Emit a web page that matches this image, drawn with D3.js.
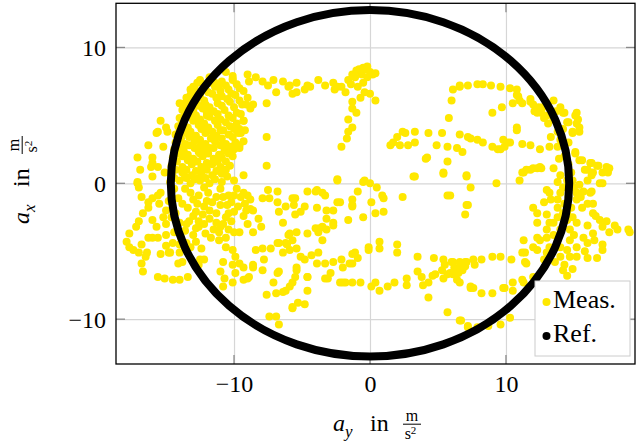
<!DOCTYPE html>
<html><head><meta charset="utf-8">
<script src="https://cdn.jsdelivr.net/npm/d3@7"></script>
<style>body{margin:0;background:#fff} svg{display:block} text{font-family:"Liberation Serif","Times New Roman",serif;fill:#000}</style>
</head><body><svg id="c" width="636" height="442"></svg>
<script>
// ---- data (a_y, a_x) in m/s^2 ----
const xDomain = [-18.68, 19.49];
const yDomain = [-13.3, 13.25];
const xTicks = [-10, 0, 10];
const yTicks = [-10, 0, 10];
const refRadii = [14.65, 12.75];           // reference ellipse semi-axes (a_y, a_x)
const legendLabels = ["Meas.", "Ref."];

const measTop = [
[-10.6,8.2],[-10.1,7.9],[-9.0,8.0],[-11.8,7.4],[-11.1,7.2],[-10.1,7.6],[-8.9,7.5],[-7.9,7.5],[-7.1,7.6],[-6.4,7.5],[-6.0,7.1],[-5.7,6.6],[-6.9,6.7],[-8.4,7.8],[-7.5,7.2],
[-5.9,7.2],[-5.4,6.7],[-4.8,6.9],[-4.6,7.2],[-3.8,7.6],[-3.3,7.2],[-2.7,7.4],[-2.6,6.9],[-2.1,7.1],[-1.8,6.7],[-1.6,7.6],[-1.3,8.0],[-1.0,8.3],[-0.5,8.5],[0.0,8.2],[0.4,8.1],
[-0.2,7.8],[-0.6,8.0],[-1.1,7.8],[-0.9,7.1],[-0.4,6.7],[0.0,6.6],[0.4,6.1],[-0.7,6.3],[-1.3,6.0],[-1.3,5.5],[-1.0,5.2],[-1.6,4.7],[-1.3,4.1],[-1.6,3.8],[-1.7,3.3],[-2.1,2.7],
[-5.4,7.4],[-4.4,7.1],[-2.4,7.1],[-0.3,8.4],[0.2,8.0],[-0.8,8.4],[-0.2,8.6],[-1.4,7.3],[-0.5,7.4]
];
const measLeftDense = [
[-12.5,7.6],[-11.8,7.8],[-10.9,7.5],[-10.1,7.7],
[-12.9,7.0],[-12.1,6.9],[-11.4,7.1],[-10.4,6.9],[-9.6,7.0],
[-13.2,6.5],[-12.5,6.4],[-11.6,6.6],[-10.9,6.4],[-9.9,6.5],[-9.0,6.3],
[-13.6,5.9],[-12.8,6.0],[-12.1,5.8],[-11.2,5.9],[-10.3,6.0],[-9.4,5.8],
[-13.8,5.4],[-13.0,5.3],[-12.3,5.5],[-11.5,5.3],[-10.7,5.4],[-9.8,5.2],[-8.8,5.5],
[-14.0,4.8],[-13.2,4.9],[-12.5,4.7],[-11.8,4.9],[-11.0,4.7],[-10.1,4.8],[-9.3,4.6],
[-14.1,4.2],[-13.4,4.1],[-12.6,4.3],[-11.9,4.1],[-11.2,4.3],[-10.3,4.2],[-9.6,4.0],
[-14.3,3.6],[-13.5,3.7],[-12.8,3.5],[-12.1,3.7],[-11.3,3.5],[-10.4,3.6],[-9.7,3.7],
[-14.3,3.0],[-13.6,2.9],[-12.9,3.1],[-12.1,2.9],[-11.4,3.1],[-10.6,2.9],[-9.9,3.0],[-9.3,3.1],
[-14.4,2.5],[-13.7,2.4],[-12.9,2.6],[-12.2,2.4],[-11.5,2.6],[-10.7,2.4],[-10.0,2.5],
[-14.5,1.9],[-13.8,2.0],[-13.0,1.8],[-12.3,2.0],[-11.5,1.8],[-10.9,1.9],[-10.1,2.0],
[-14.6,1.3],[-13.8,1.2],[-13.1,1.4],[-12.4,1.2],[-11.6,1.4],[-11.0,1.2],[-10.3,1.3],
[-14.6,0.7],[-13.8,0.8],[-13.1,0.6],[-12.4,0.8],[-11.6,0.6],[-10.9,0.7],
[-14.7,0.1],[-14.0,0.2],[-13.2,0.0],[-12.5,0.2],[-11.8,0.0],[-10.9,0.1],[-10.0,0.2],
[-13.4,6.2],[-12.0,5.0],[-13.9,3.3],[-12.5,2.2],[-11.2,1.6],[-13.5,0.4],[-11.0,3.9],[-14.2,2.2],[-12.6,0.4],
[-12.2,7.3],[-11.4,7.4],[-10.6,7.2],[-9.8,7.3],
[-12.8,6.7],[-11.9,6.7],[-11.0,6.8],[-10.2,6.6],[-9.3,6.8],
[-13.0,6.2],[-12.2,6.1],[-11.3,6.3],[-10.5,6.2],[-9.6,6.1],
[-13.4,5.6],[-12.6,5.7],[-11.8,5.6],[-10.9,5.7],[-10.0,5.6],[-9.1,5.8],
[-13.6,5.1],[-12.8,5.0],[-12.0,5.2],[-11.2,5.1],[-10.4,5.0],[-9.5,5.1],
[-13.8,4.5],[-13.0,4.6],[-12.2,4.4],[-11.4,4.6],[-10.6,4.5],[-9.8,4.4],
[-14.0,3.9],[-13.2,3.8],[-12.4,4.0],[-11.6,3.8],[-10.8,3.9],[-10.0,4.0],[-9.2,3.9],
[-14.1,3.3],[-13.3,3.4],[-12.5,3.2],[-11.7,3.3],[-10.9,3.3],[-10.1,3.4],
[-14.1,2.7],[-13.3,2.8],[-12.5,2.7],[-11.8,2.6],[-11.0,2.8],[-10.3,2.7],[-9.6,2.6],
[-14.2,2.2],[-13.4,2.1],[-12.6,2.3],[-11.9,2.2],[-11.1,2.1],[-10.4,2.2],
[-14.2,1.6],[-13.4,1.7],[-12.7,1.6],[-12.0,1.5],[-11.3,1.7],[-10.6,1.6],
[-14.3,1.0],[-13.5,1.0],[-12.8,0.9],[-12.0,1.0],[-11.3,0.9],[-10.6,1.0],
[-14.4,0.4],[-13.6,0.5],[-12.9,0.3],[-12.1,0.4],[-11.4,0.3],[-10.5,0.5]
];
const measLeftOuter = [
[-15.4,4.6],[-16.3,2.8],[-15.7,3.7],[-17.1,1.9],[-16.9,1.0],[-17.1,0.1],[-16.0,1.9],[-15.2,2.7],[-14.9,3.8],[-14.0,5.9],[-13.5,6.3],[-13.2,6.9],[-13.0,7.1],[-12.7,7.4],
[-15.1,0.8],[-15.6,1.2],[-16.0,1.5],[-16.0,0.5],[-15.0,4.1],[-15.6,3.8],[-16.1,1.2],
[-8.6,5.8],[-7.6,5.9],[-9.3,4.6],[-7.6,3.4],[-7.6,1.3],[-9.3,0.6],[-9.5,3.7],[-9.6,2.8]
];
const measLowLeft = [
[-17.1,0.0],[-17.0,-0.3],[-16.8,-1.0],[-16.3,-1.4],[-16.0,-1.1],[-15.6,-0.9],[-15.4,-0.7],[-15.5,-1.5],[-16.3,-1.8],[-16.7,-2.2],[-17.0,-2.8],[-17.2,-3.2],[-17.7,-3.7],[-17.9,-4.3],
[-17.7,-4.7],[-17.4,-4.9],[-17.0,-5.1],[-16.5,-5.4],[-16.8,-5.9],[-16.7,-6.5],[-15.6,-6.9],[-15.1,-7.0],[-14.5,-7.1],[-14.0,-7.1],[-13.4,-6.9],[-15.4,-5.2],[-14.8,-5.1],[-14.0,-5.1],
[-14.1,-5.9],[-13.8,-5.8],[-16.3,-4.0],[-16.0,-4.0],[-15.6,-4.0],[-15.7,-3.2],[-16.0,-2.7],[-15.2,-2.5],[-14.6,-2.5],[-14.0,-2.9],[-14.4,-3.6],[-13.9,-4.0],[-13.5,-4.4],[-13.2,-4.7],
[-12.8,-4.3],[-12.4,-4.8],[-12.2,-5.6],[-12.6,-6.0],[-12.6,-3.2],[-12.1,-3.7],[-11.5,-3.4],[-11.1,-3.6],[-10.4,-3.4],[-10.0,-3.6],[-9.6,-3.6],[-8.6,-3.6],[-13.2,-0.7],[-12.6,-0.9],
[-11.9,-0.7],[-11.3,-1.0],[-10.8,-1.0],[-10.4,-0.9],[-10.0,-0.9],[-9.3,-0.7],[-9.0,-0.9],[-8.8,-1.2],[-9.7,-1.7],[-8.8,-1.9],[-10.6,-2.5],[-11.3,-2.2],[-11.8,-2.0],[-12.3,-2.3],
[-12.8,-2.1],[-13.4,-1.8],[-13.8,-1.5],[-13.3,-2.8],[-12.6,-2.8],[-11.3,-2.9],[-11.1,-4.2],[-10.6,-4.7],[-10.1,-4.9],[-9.9,-5.4],[-9.6,-5.9],[-10.1,-6.0],[-10.8,-5.8],[-11.0,-6.5],
[-10.7,-7.0],[-10.8,-7.6],[-10.1,-7.3],[-9.3,-7.1],[-8.9,-6.9],[-9.9,-6.6],[-9.3,-6.2],[-8.6,-6.2],[-7.9,-6.4],[-7.8,-5.6],[-8.4,-4.9],[-7.9,-4.8],[-7.3,-4.8],[-6.7,-4.4],
[-6.2,-4.4],[-5.7,-4.2],[-6.4,-5.1],[-6.7,-6.5],[-7.1,-7.3],[-7.6,-8.2],[-6.9,-8.1],[-6.2,-7.9],[-5.7,-9.1],[-7.4,-9.8],[-6.9,-9.8],[-6.7,-10.4],[-7.9,-1.1],[-7.4,-1.1],
[-7.5,-0.5],[-6.8,-1.4],[-6.2,-1.7],[-6.7,-2.1],[-6.4,-2.9],[-6.0,-3.8],[-5.6,-1.6],[-8.6,-2.0],[-12.2,-1.7],[-14.3,-2.2],
[-16.4,-5.1],[-14.7,-5.1],[-14.5,-4.4],[-12.5,-5.6],[-9.0,-7.0],[-8.6,-6.0],[-6.8,-6.6],[-6.4,-8.0],[-5.9,-7.6],[-5.4,-6.2],[-4.6,-6.9],[-6.8,-4.4],[-6.1,-4.5],[-4.0,-3.3],
[-13.0,-1.2],[-12.0,-1.3],[-11.0,-1.6],[-10.2,-1.4],[-9.5,-1.0],[-12.8,-3.3],[-11.8,-2.6],[-10.8,-3.0],[-13.6,-3.5],[-10.4,-2.2],[-9.3,-2.4],[-9.0,-3.0],[-8.2,-2.6],[-8.0,-3.2],
[-6.8,-0.6],[-5.7,-1.1],[-3.9,-0.5],
[-14.4,-0.4],[-13.6,-0.4],[-12.2,-0.3],[-11.0,-0.4],[-9.8,-0.4],
[-14.8,-1.3],[-14.1,-1.1],[-12.7,-1.5],[-11.6,-1.4],[-10.5,-1.6],[-9.2,-1.5],
[-15.0,-2.0],[-13.0,-2.4],[-10.0,-2.1],[-9.1,-2.0],
[-15.0,-3.0],[-13.5,-3.0],[-12.2,-3.0],[-11.0,-3.2],[-10.2,-2.8],
[-15.0,-3.8],[-13.0,-3.8],[-11.7,-4.0],[-10.6,-4.0],
[-16.8,-4.5],[-15.0,-4.6],[-14.0,-4.5]
];
const measCenter = [
[-2.4,0.2],[-0.5,0.1],[0.0,0.0],[0.5,-0.3],[0.9,-0.9],[1.0,-1.1],[2.4,-1.0],[5.9,-0.9],[7.1,-1.6],[7.0,-2.3],[-0.9,-0.6],[0.1,-1.4],[1.0,-2.1],[0.4,-2.2],[-1.3,-1.2],[-1.3,-1.6],
[-0.5,-2.5],[-1.6,-2.7],[-2.4,-1.4],[-3.3,-0.9],[-4.0,-0.6],[-4.6,-0.6],[-5.5,-1.1],[-4.8,-1.7],[-5.1,-2.1],[-5.5,-2.3],[-3.9,-1.8],[-3.2,-2.0],[-2.7,-2.0],[-3.2,-2.6],[-3.7,-3.3],
[-3.2,-3.4],[-2.7,-2.9],[-3.8,-3.6],[-4.6,-3.7],[-5.4,-3.6],[-5.9,-3.7],[-3.5,-4.2],[-5.9,-4.9],[-5.4,-4.8],[-5.1,-5.4],[-4.8,-5.6],[-4.3,-5.3],[-3.8,-5.1],[-3.9,-5.9],[-3.3,-5.9],
[-2.7,-5.8],[-2.1,-5.6],[-1.3,-5.2],[-0.9,-5.5],[-1.3,-5.9],[-2.0,-6.2],[-2.9,-6.6],[-3.3,-7.0],[-4.6,-6.9],[-5.4,-6.4],[-5.5,-6.9],[-5.7,-7.3],[-4.6,-7.9],[-5.3,-8.8],[-4.8,-8.9],
[-5.7,-9.2],[-2.2,-7.3],[-1.8,-7.3],[-1.3,-7.3],[-0.7,-7.3],[-0.1,-4.7],[-0.1,-4.9],[0.7,-4.3],[0.7,-4.8],[2.0,-4.5],[2.0,-5.1],[0.1,-7.6],[0.4,-7.3],[0.7,-7.9],[1.3,-7.6],
[1.8,-7.3],[2.7,-7.0],[2.7,-7.5],[3.5,-6.5],[3.8,-6.9],[3.9,-7.5],[4.3,-7.3],[4.6,-6.8],[4.3,-8.4],[3.5,-5.4],[4.7,-5.5],[5.4,-5.6],[5.3,-6.4],[5.7,-6.7],[5.4,-7.0],[6.1,-5.8],
[6.6,-5.8],[7.1,-5.8],[6.4,-6.3],[6.8,-6.4],[5.9,-6.6],[6.4,-7.1],[6.6,-7.3],[7.4,-7.6],[5.7,-9.5],[6.7,-10.1],[7.2,-10.5],
[-3.5,-3.2],[-2.7,-3.1],[-1.1,-5.1],[-1.5,-5.9],[-3.1,-7.0],[-2.0,-7.3],[4.8,-6.7],[5.5,-6.0],[6.0,-5.8],[6.1,-6.7],[7.6,-7.7],[8.2,-8.1],[9.0,-8.1],
[6.2,-6.2],[6.8,-5.9],[6.5,-6.6],[7.0,-6.1],[-3.5,-0.7],[-2.2,-1.4],[-1.3,-1.7]
];
const measMidRight = [
[1.5,2.8],[2.0,3.4],[2.4,3.8],[3.3,3.8],[2.2,2.8],[2.8,2.8],[3.3,3.0],[1.7,3.0],[2.6,3.7],[4.3,3.7],[5.3,3.7],[4.9,2.8],[5.7,2.7],[6.6,3.6],[7.2,3.4],[6.4,2.6],
[6.8,2.3],[4.1,1.8],[5.7,1.6],[6.0,6.1],[6.1,6.9],[6.6,7.1],[5.8,4.8],[4.2,1.9],[5.4,0.8],[3.3,0.5],[5.4,0.7],[7.1,0.6],[-2.4,0.3],[-0.4,0.2],[3.2,0.5],[5.7,-0.9]
];
const measRight = [
[6.6,7.2],[7.2,7.2],[7.9,7.3],[8.3,7.3],[8.9,7.2],[9.6,7.1],[10.3,7.0],[10.8,6.9],[10.9,6.4],[10.5,5.9],[11.0,6.1],[10.8,6.5],[11.2,5.9],[11.8,6.0],[11.8,6.2],[12.0,5.8],
[12.4,5.6],[12.6,5.2],[13.0,5.0],[12.7,5.6],[12.3,5.2],[13.5,6.1],[14.0,5.6],[14.3,5.2],[13.5,4.7],[13.1,4.4],[14.6,4.5],[14.5,4.5],[15.1,5.0],[15.2,5.2],[15.3,4.7],[15.2,4.4],
[15.4,4.1],[15.4,3.8],[14.9,3.8],[14.9,3.7],[14.2,5.2],[10.8,4.1],[10.8,3.9],[9.7,5.6],[9.0,5.2],
[9.8,3.2],[10.1,3.0],[9.6,2.5],[11.2,2.9],[11.8,2.8],[13.2,2.7],[13.8,2.7],[12.5,2.5],[14.0,3.2],[14.6,3.0],[15.1,2.3],[15.1,2.2],[15.4,1.7],[15.6,1.7],[16.2,1.5],[16.3,1.5],
[16.7,1.3],[16.8,1.3],[17.4,1.2],[17.6,1.1],[17.5,0.8],[17.1,0.8],[16.4,0.8],[16.0,1.0],[15.8,1.0],[16.3,0.6],[17.1,0.0],[16.9,0.0],[16.0,0.2],[15.4,-0.1],[16.3,-0.6],[16.0,-1.5],[16.4,-2.2],
[7.4,3.3],[7.9,3.2],[8.3,3.0],[9.0,2.7],[9.4,2.5],[9.9,2.7],[10.3,3.0],
[11.3,0.8],[11.5,1.0],[11.8,1.0],[12.0,1.1],[12.3,1.1],[12.5,1.2],[12.6,1.1],[13.5,1.1],[14.0,0.6],[14.5,0.2],[14.9,0.2],[13.8,0.1],[14.2,-0.3],[14.0,-0.7],[14.6,-1.0],[15.2,-0.7],
[11.0,0.2],[13.0,-0.5],[13.2,-0.7],[13.8,-1.2],[13.8,-1.8],[14.5,-2.2],[12.3,-2.2],[13.0,-2.3],[11.2,0.8],[9.3,0.0],[7.1,0.5],
[14.3,2.0],[14.6,1.4],[13.9,1.8],[14.8,0.8],[15.0,-0.3],[14.3,-1.5],[14.8,-1.8],[15.5,-1.0],
[13.8,3.8],[13.3,3.4],[14.2,4.0],[12.8,4.8],[13.7,5.3],[12.1,5.3]
];
const measLowRight = [
[7.4,-0.3],[7.2,-1.6],[12.3,-2.9],[13.2,-2.9],[13.8,-2.5],[14.2,-2.2],[15.2,-1.2],[16.4,-1.5],[16.2,-0.7],[15.2,-0.7],[15.7,-0.6],[16.9,-2.7],[17.4,-2.8],[18.0,-3.1],[18.2,-3.4],
[19.0,-3.4],[19.1,-3.6],[17.1,-3.2],[15.2,-2.9],[16.0,-3.1],[16.4,-3.7],[15.7,-4.0],[16.0,-4.4],[15.2,-4.7],[14.7,-4.2],[14.5,-4.9],[13.8,-4.2],[13.0,-4.0],[12.5,-4.2],[12.0,-4.7],
[11.4,-5.1],[12.3,-4.9],[13.0,-5.1],[14.0,-5.4],[14.7,-5.4],[15.2,-5.4],[16.0,-5.5],[16.7,-5.5],[17.1,-4.9],[17.1,-4.5],[14.2,-6.4],[14.5,-6.8],[14.9,-6.3],[14.3,-6.0],[11.4,-5.8],
[10.4,-5.6],[9.6,-5.4],[9.0,-5.4],[8.2,-5.6],[7.6,-5.6],[7.0,-5.8],[6.6,-6.2],[7.7,-6.0],[12.0,-6.9],[11.2,-7.1],[10.5,-7.3],[9.8,-7.7],[10.5,-7.9],[7.4,-7.7],[10.3,-9.9],
[9.6,-10.4],[7.9,-10.6],[7.2,-10.6],[13.5,-2.9],[13.0,-3.4],[14.7,-3.4],[14.0,-3.4],[14.5,-2.7],[14.9,-2.5],[14.0,-4.7],[13.2,-4.7],
[11.2,-5.1],[11.5,-5.9],[11.3,-4.2],[12.3,-4.0],[9.9,-7.7],[11.3,-7.3],[8.7,-10.5],[6.6,-10.1],
[15.6,-1.8],[15.0,-3.8],[13.5,-3.8],[16.5,-4.2],[15.8,-5.0],[13.6,-5.8],[12.8,-5.6],[16.6,-2.4],[17.6,-3.6],[12.8,-1.4],[12.0,-1.8],[13.3,-1.2]
];
const meas = [].concat(measTop, measLeftDense, measLeftOuter, measLowLeft, measCenter, measMidRight, measRight, measLowRight);

// ---- drawing ----
const svg = d3.select("#c");
const L = 116, R = 635, T = 3.3, B = 364;
const x = d3.scaleLinear().domain(xDomain).range([L, R]);
const y = d3.scaleLinear().domain(yDomain).range([B, T]);
const fmt = d => d < 0 ? "\u2212" + Math.abs(d) : String(d);

// grid
svg.append("g").attr("transform", `translate(0,${B})`)
  .call(d3.axisBottom(x).tickValues(xTicks).tickSize(-(B - T)).tickFormat(""))
  .call(g => { g.select(".domain").remove(); g.selectAll("line").attr("stroke", "#d6d6d6").attr("stroke-width", 1.2); });
svg.append("g").attr("transform", `translate(${L},0)`)
  .call(d3.axisLeft(y).tickValues(yTicks).tickSize(-(R - L)).tickFormat(""))
  .call(g => { g.select(".domain").remove(); g.selectAll("line").attr("stroke", "#d6d6d6").attr("stroke-width", 1.2); });

// inward tick marks on all sides
const tk = 9, tc = "#8a8a8a";
const tg = svg.append("g").attr("stroke", tc).attr("stroke-width", 1.3);
xTicks.forEach(v => {
  tg.append("line").attr("x1", x(v)).attr("x2", x(v)).attr("y1", B).attr("y2", B - tk);
  tg.append("line").attr("x1", x(v)).attr("x2", x(v)).attr("y1", T).attr("y2", T + tk);
});
yTicks.forEach(v => {
  tg.append("line").attr("y1", y(v)).attr("y2", y(v)).attr("x1", L).attr("x2", L + tk);
  tg.append("line").attr("y1", y(v)).attr("y2", y(v)).attr("x1", R).attr("x2", R - tk);
});

// clip
svg.append("clipPath").attr("id", "clip").append("rect")
  .attr("x", L).attr("y", T).attr("width", R - L).attr("height", B - T);

// measured points
svg.append("g").attr("clip-path", "url(#clip)")
  .selectAll("circle").data(meas).join("circle")
  .attr("cx", d => x(d[0])).attr("cy", d => y(d[1])).attr("r", 4)
  .attr("fill", "#ffe800");

// reference ellipse
svg.append("ellipse")
  .attr("cx", x(0)).attr("cy", y(0))
  .attr("rx", x(refRadii[0]) - x(0)).attr("ry", y(0) - y(refRadii[1]))
  .attr("fill", "none").attr("stroke", "#000").attr("stroke-width", 8);

// frame
svg.append("rect").attr("x", L).attr("y", T).attr("width", R - L).attr("height", B - T)
  .attr("fill", "none").attr("stroke", "#000").attr("stroke-width", 1.3);

// tick labels
svg.append("g").attr("transform", `translate(0,${B})`)
  .call(d3.axisBottom(x).tickValues(xTicks).tickSize(0).tickFormat(fmt))
  .call(g => { g.select(".domain").remove();
    g.selectAll("text").attr("y", 28).attr("dy", 0).attr("fill", "#000")
      .style("font-family", '"Liberation Serif",serif').style("font-size", "24px"); });
svg.append("g").attr("transform", `translate(${L},0)`)
  .call(d3.axisLeft(y).tickValues(yTicks).tickSize(0).tickFormat(fmt))
  .call(g => { g.select(".domain").remove();
    g.selectAll("text").attr("x", -10).attr("dy", "0.34em").attr("fill", "#000")
      .style("font-family", '"Liberation Serif",serif').style("font-size", "24px"); });

// axis labels
function axisLabel(g, sub) {
  g.append("text").attr("x", -43).attr("y", 0).style("font-style", "italic").style("font-size", "24px").text("a");
  g.append("text").attr("x", -31).attr("y", 6).style("font-style", "italic").style("font-size", "17px").text(sub);
  g.append("text").attr("x", -6).attr("y", 0).style("font-size", "24px").text("in");
  g.append("text").attr("x", 36).attr("y", -10.5).attr("text-anchor", "middle").style("font-size", "16px").text("m");
  g.append("line").attr("x1", 27).attr("x2", 45).attr("y1", -6.8).attr("y2", -6.8).attr("stroke", "#000").attr("stroke-width", 1);
  const t = g.append("text").attr("x", 34.5).attr("y", 7.5).attr("text-anchor", "middle").style("font-size", "16px");
  t.append("tspan").text("s");
  t.append("tspan").attr("dy", -5).style("font-size", "11px").text("2");
}
axisLabel(svg.append("g").attr("transform", "translate(376,431)"), "y");
axisLabel(svg.append("g").attr("transform", "translate(29,181) rotate(-90)"), "x");

// legend
const lg = svg.append("g");
lg.append("rect").attr("x", 535).attr("y", 281).attr("width", 95).attr("height", 75)
  .attr("fill", "#fff").attr("stroke", "#cccccc").attr("stroke-width", 1);
const legColors = ["#ffe800", "#000"];
legendLabels.forEach((lab, i) => {
  lg.append("circle").attr("cx", 546.5).attr("cy", 302 + i * 34).attr("r", 4).attr("fill", legColors[i]);
  lg.append("text").attr("x", 553).attr("y", 308 + i * 34).style("font-size", "26px").text(lab);
});
</script></body></html>
